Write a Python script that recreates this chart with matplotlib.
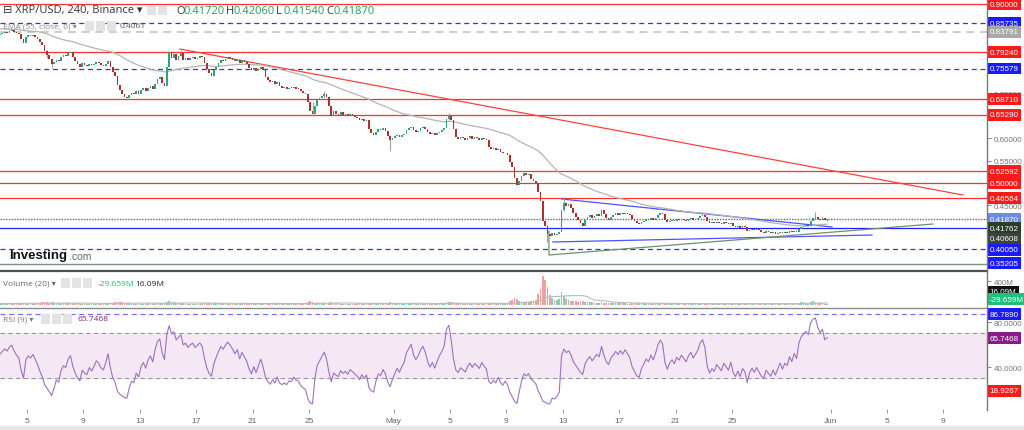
import numpy as np
import pandas as pd
import matplotlib
matplotlib.use("Agg")
import matplotlib.pyplot as plt
from matplotlib.patches import Rectangle
from matplotlib.lines import Line2D
import matplotlib.transforms as mtransforms

# ---- data (4h candles, XRP/USD, starting Apr 3 00:00) ----
first_open = 0.830
closes = [
    0.832, 0.835, 0.838, 0.836, 0.840, 0.842, 0.838, 0.835, 0.833, 0.822, 0.812,
    0.826, 0.830, 0.828, 0.831, 0.827, 0.822, 0.815, 0.808, 0.795, 0.787,
    0.778, 0.765, 0.770, 0.776, 0.772, 0.781, 0.785, 0.783, 0.790, 0.793,
    0.782, 0.773, 0.765, 0.760, 0.768, 0.764, 0.762, 0.767, 0.763, 0.766,
    0.770, 0.768, 0.764, 0.762, 0.766, 0.772, 0.760, 0.748, 0.740, 0.718,
    0.708, 0.700, 0.693, 0.690, 0.697, 0.702, 0.699, 0.706, 0.700, 0.708,
    0.712, 0.705, 0.712, 0.716, 0.710, 0.722, 0.733, 0.737, 0.724, 0.716,
    0.760, 0.792, 0.780, 0.788, 0.776, 0.784, 0.790, 0.776, 0.780, 0.774,
    0.779, 0.782, 0.777, 0.780, 0.784, 0.781, 0.768, 0.755, 0.745, 0.740,
    0.752, 0.760, 0.768, 0.775, 0.772, 0.778, 0.782, 0.779, 0.776, 0.772,
    0.776, 0.768, 0.774, 0.770, 0.766, 0.758, 0.752, 0.757, 0.750, 0.755,
    0.760, 0.752, 0.738, 0.730, 0.725, 0.728, 0.722, 0.726, 0.716, 0.713,
    0.714, 0.711, 0.713, 0.712, 0.714, 0.711, 0.710, 0.705, 0.702, 0.700,
    0.680, 0.660, 0.655, 0.672, 0.685, 0.690, 0.695, 0.700, 0.692, 0.672,
    0.650, 0.660, 0.655, 0.652, 0.658, 0.653, 0.655, 0.650, 0.654, 0.651,
    0.648, 0.645, 0.640, 0.643, 0.638, 0.640, 0.620, 0.612, 0.608, 0.615,
    0.620, 0.618, 0.622, 0.617, 0.605, 0.595, 0.600, 0.604, 0.608, 0.603,
    0.607, 0.610, 0.618, 0.622, 0.626, 0.618, 0.614, 0.617, 0.622, 0.625,
    0.621, 0.614, 0.609, 0.612, 0.607, 0.611, 0.615, 0.618, 0.622, 0.642,
    0.650, 0.640, 0.620, 0.603, 0.598, 0.603, 0.600, 0.596, 0.601, 0.604,
    0.599, 0.602, 0.600, 0.597, 0.601, 0.598, 0.595, 0.580, 0.576, 0.578,
    0.574, 0.577, 0.570, 0.566, 0.568, 0.563, 0.548, 0.535, 0.512, 0.495,
    0.505, 0.515, 0.522, 0.518, 0.520, 0.510, 0.505, 0.500, 0.480, 0.460,
    0.415, 0.405, 0.385, 0.382, 0.388, 0.384, 0.386, 0.390, 0.440, 0.455,
    0.448, 0.452, 0.445, 0.432, 0.425, 0.418, 0.410, 0.405, 0.418, 0.424,
    0.428, 0.422, 0.426, 0.430, 0.427, 0.440, 0.430, 0.422, 0.418, 0.425,
    0.428, 0.432, 0.429, 0.433, 0.430, 0.434, 0.431, 0.428, 0.420, 0.415,
    0.410, 0.408, 0.413, 0.416, 0.419, 0.417, 0.421, 0.418, 0.422, 0.428,
    0.432, 0.430, 0.418, 0.412, 0.416, 0.418, 0.415, 0.419, 0.417, 0.420,
    0.418, 0.416, 0.419, 0.421, 0.418, 0.420, 0.422, 0.426, 0.428, 0.425,
    0.415, 0.410, 0.412, 0.410, 0.413, 0.411, 0.409, 0.412, 0.410, 0.408,
    0.411, 0.405, 0.402, 0.404, 0.400, 0.403, 0.401, 0.392, 0.396, 0.398,
    0.395, 0.397, 0.394, 0.391, 0.389, 0.392, 0.390, 0.388, 0.390, 0.387,
    0.389, 0.391, 0.388, 0.390, 0.389, 0.392, 0.390, 0.393, 0.391, 0.398,
    0.402, 0.404, 0.406, 0.405, 0.416, 0.421, 0.423, 0.420, 0.418, 0.421,
    0.4172, 0.4187,
]
# notable wicks: candle index -> (low, high)
wicks = {20: (0.780, 0.797), 22: (0.760, 0.780), 77: (0.784, 0.797),
         133: (0.650, 0.682), 138: (0.690, 0.705), 166: (0.571, 0.607),
         191: (0.640, 0.657), 233: (0.368, 0.406), 240: (0.438, 0.468),
         347: (0.419, 0.435), 352: (0.4154, 0.4206)}

volume = [  # millions
    28, 22, 25, 30, 24, 20, 26, 31, 27, 35, 40, 29, 24, 22, 26, 25, 30, 38, 52, 45,
    48, 40, 44, 30, 26, 28, 24, 30, 33, 29, 27, 35, 38, 30, 26, 22, 20, 24, 21, 23,
    22, 25, 20, 19, 24, 26, 30, 34, 40, 48, 56, 50, 44, 38, 30, 27, 25, 22, 24, 26,
    23, 21, 25, 28, 24, 22, 30, 36, 40, 33, 29, 45, 70, 50, 42, 35, 30, 28, 26, 24,
    22, 20, 24, 23, 21, 25, 27, 45, 40, 36, 33, 30, 28, 26, 29, 31, 25, 23, 22, 24,
    21, 20, 23, 22, 26, 25, 30, 34, 28, 26, 24, 27, 25, 38, 35, 30, 28, 26, 24, 22,
    20, 21, 19, 22, 20, 23, 21, 22, 25, 28, 32, 48, 60, 52, 40, 34, 30, 28, 26, 25,
    36, 44, 35, 30, 27, 25, 24, 22, 23, 21, 24, 22, 26, 28, 25, 24, 23, 35, 40, 33,
    28, 26, 24, 25, 23, 30, 46, 38, 32, 28, 25, 26, 24, 23, 28, 30, 27, 24, 22, 23,
    24, 22, 25, 27, 23, 22, 21, 24, 26, 30, 44, 52, 48, 42, 36, 30, 27, 25, 24, 22,
    23, 21, 22, 24, 21, 22, 23, 21, 30, 28, 26, 27, 25, 32, 30, 34, 36, 60, 85, 120,
    95, 70, 55, 48, 45, 50, 62, 75, 90, 180, 260, 480, 420, 300, 160, 110, 90, 80, 95, 210,
    150, 100, 80, 70, 65, 60, 58, 62, 70, 55, 48, 44, 42, 40, 38, 36, 45, 40, 38, 35,
    33, 30, 28, 30, 27, 26, 28, 25, 24, 30, 34, 38, 36, 32, 28, 26, 25, 27, 24, 26,
    30, 28, 26, 32, 30, 26, 24, 22, 21, 23, 20, 22, 21, 20, 23, 22, 21, 24, 25, 26,
    24, 30, 28, 24, 22, 21, 20, 22, 21, 20, 19, 21, 24, 26, 25, 23, 24, 22, 30, 26,
    24, 22, 23, 21, 25, 24, 22, 21, 20, 22, 21, 23, 20, 21, 22, 20, 23, 21, 24, 22,
    40, 52, 45, 38, 35, 55, 62, 48, 40, 35, 30, 25, 16,
]

red_levels = [0.90, 0.79240, 0.68710, 0.65290, 0.52592, 0.50, 0.46564]
blue_dash_levels = [0.85735, 0.75579, 0.35205]
gray_dash_level = 0.83791
blue_solid_level = 0.40050
last_price = 0.41870
ema_seed = 0.845
rsi_seed = 0.004  # average gain / loss before the first candle

# trend lines (days since Apr 1, price)
red_trend = ([14.85, 70.38], [0.7994, 0.4732])
blue_upper = ([41.94, 61.09], [0.4642, 0.4017])
blue_lower = ([41.30, 63.93], [0.3682, 0.3838])
green_trend = ([41.02, 41.02, 68.26], [0.3927, 0.3391, 0.4084])

tick_days = [4, 8, 12, 16, 20, 24, 30, 34, 38, 42, 46, 50, 54, 61, 65, 69]
tick_text = ["5", "9", "13", "17", "21", "25", "May", "5", "9", "13", "17",
             "21", "25", "Jun", "5", "9"]
price_ticks = [0.45, 0.55, 0.60, 0.70]

# right-hand price labels: (text, label y, box colour)
price_labels = [
    ("0.90000", 0.90000, "#ff1a1a"), ("0.85735", 0.85735, "#1a1aff"),
    ("0.83791", 0.83791, "#a8a8a8"), ("0.79240", 0.79240, "#ff1a1a"),
    ("0.75579", 0.75579, "#1a1aff"), ("0.68710", 0.68710, "#ff1a1a"),
    ("0.65290", 0.65290, "#ff1a1a"), ("0.52592", 0.52592, "#ff1a1a"),
    ("0.50000", 0.50000, "#ff1a1a"), ("0.46564", 0.46564, "#ff1a1a"),
    ("0.41870", 0.41870, "#6a8be0"), ("0.41762", 0.3994, "#2c3d2c"),
    ("0.40608", 0.3749, "#3a443a"), ("0.40050", 0.3503, "#1a1aff"),
    ("0.35205", 0.3212, "#1a1aff"),
]

# ---- derived series ----
n = len(closes)
xs = 2 + (np.arange(n) + 0.5) / 6.0
c = np.array(closes)
o = np.r_[first_open, c[:-1]]

ema = []
e = ema_seed
for v in c:
    e = e + 2.0 / 56 * (v - e)
    ema.append(e)

rsi = []
ag = al = rsi_seed
for d in c - o:
    ag = (ag * 8 + max(d, 0)) / 9
    al = (al * 8 + max(-d, 0)) / 9
    rsi.append(100 - 100 / (1 + ag / al))
vol_ma = pd.Series(volume).rolling(20, min_periods=1).mean()

# ---- figure ----
W, H = 1024, 431
fig = plt.figure(figsize=(W / 100, H / 100), dpi=100)
LAB = ["Liberation Sans", "DejaVu Sans"]
HDR = ["Open Sans", "DejaVu Sans"]


def pax(x0, y0, x1, y1):
    a = fig.add_axes([x0 / W, 1 - y1 / H, (x1 - x0) / W, (y1 - y0) / H])
    for s in a.spines.values():
        s.set_visible(False)
    a.set_xlim(2.085, 72.09)
    a.tick_params(axis="x", bottom=False, labelbottom=False)
    a.yaxis.tick_right()
    a.tick_params(axis="y", length=3, width=0.6, color="#777777", pad=2,
                  labelsize=5.8, labelcolor="#777777")
    return a


def rlabel(a, y, txt, col):
    tr = mtransforms.blended_transform_factory(a.transAxes, a.transData)
    a.text(1.0 + 2.5 / 987, y, txt, transform=tr, fontsize=5.8, color="white",
           family=LAB, va="center", ha="left", clip_on=False, zorder=10,
           bbox=dict(boxstyle="square,pad=0.3", fc=col, ec="none"))


ax = pax(0, 0, 987, 271)
axv = pax(0, 273, 987, 308)
axr = pax(0, 310, 987, 410)

# main panel
ax.set_ylim(0.3056, 0.9112)
ax.set_yticks(price_ticks)
ax.set_yticklabels([f"{v:.5f}" for v in price_ticks], family=LAB)

for lv in red_levels:
    ax.axhline(lv, color="#ff3030", lw=0.9, zorder=1)
for lv in blue_dash_levels:
    ax.axhline(lv, color="#3030ff", lw=0.9, ls=(0, (4, 3)), zorder=1)
ax.axhline(gray_dash_level, color="#cccccc", lw=1.4, ls=(0, (4, 3)), zorder=1)
ax.axhline(blue_solid_level, color="#2020ff", lw=0.9, zorder=1)
ax.axhline(last_price, color="#666666", lw=1.0, ls=(0, (1, 1)), zorder=1)
ax.axhline(0.3195, color="#7f927f", lw=1.0, zorder=1)

ax.plot(*red_trend, color="#ff4040", lw=0.9, zorder=1)
ax.plot(*blue_upper, color="#5050ff", lw=0.9, zorder=1)
ax.plot(*blue_lower, color="#5050ff", lw=0.9, zorder=1)
ax.plot(*green_trend, color="#6f8f6f", lw=0.9, zorder=1)
ax.plot(xs, ema, color="#b4b4b4", lw=0.9, zorder=2)

up = c >= o
body_lo = np.minimum(o, c)
body_h = np.maximum(np.abs(c - o), 0.0016)
for i, (lo, hi) in wicks.items():
    ax.vlines(xs[i], lo, hi, color="#9aa59a", lw=0.8, zorder=2)
ax.bar(xs[up], body_h[up], bottom=body_lo[up], width=0.12, color="#2ea37c", zorder=3)
ax.bar(xs[~up], body_h[~up], bottom=body_lo[~up], width=0.12, color="#a8322c", zorder=3)

for txt, y, col in price_labels:
    rlabel(ax, y, txt, col)

# volume panel
axv.set_ylim(-33, 550)
axv.set_yticks([400])
axv.set_yticklabels(["400M"], family=LAB)
vol = np.array(volume)
axv.bar(xs[up], vol[up], width=0.12, color="#7fd1b0", zorder=2)
axv.bar(xs[~up], vol[~up], width=0.12, color="#f0a0a0", zorder=2)
axv.plot(xs, vol_ma, color="#bbbbbb", lw=0.8, zorder=3)
rlabel(axv, 225, "16.09M", "#111111")
rlabel(axv, 95, "-29.659M", "#1fc07a")

# RSI panel
axr.set_ylim(2.7, 91.6)
axr.set_yticks([40, 80])
axr.set_yticklabels(["40.0000", "80.0000"], family=LAB)
axr.axhspan(30, 70, color="#f3e8f3", zorder=0)
axr.axhline(70, color="#999999", lw=0.8, ls=(0, (4, 3)))
axr.axhline(30, color="#999999", lw=0.8, ls=(0, (4, 3)))
axr.axhline(86.789, color="#7070ff", lw=0.9, ls=(0, (4, 3)))
axr.plot(xs, rsi, color="#a070c0", lw=0.8, zorder=3)
for txt, y, col in [("86.7890", 86.789, "#1a1aff"), ("65.7468", 65.7468, "#8a1a8a"),
                    ("18.9267", 18.9267, "#ff1a1a")]:
    rlabel(axr, y, txt, col)

axr.tick_params(axis="x", bottom=True, labelbottom=True, length=3, width=0.6,
                color="#888888", labelsize=6, labelcolor="#666666", pad=3)
axr.set_xticks(tick_days)
axr.set_xticklabels(tick_text, family=LAB)

# frame lines
fig.add_artist(Line2D([0, 987 / W], [1 - 272 / H] * 2, color="#4d4d4d", lw=1.6))
fig.add_artist(Line2D([0, 987 / W], [1 - 308.5 / H] * 2, color="#8c8c8c", lw=1.0))
fig.add_artist(Line2D([987 / W] * 2, [1 - 411 / H, 1], color="#7a7a7a", lw=1.0))
fig.add_artist(Rectangle((0, 0), 1, 4 / H, color="#e6e6e6", lw=0))


# header texts
def ftext(x, y, s, **kw):
    fig.text(x / W, 1 - y / H, s, va="center", ha="left", **kw)


def icons(x0, y, nbox=3):
    for k in range(nbox):
        fig.add_artist(Rectangle(((x0 + k * 11) / W, 1 - (y + 5) / H), 9 / W, 10 / H,
                                 color="#e3e3e3", lw=0))


ftext(3, 11, "⊟ XRP/USD, 240, Binance ▾", fontsize=8, color="#333333", family=HDR)
icons(147, 11, 2)
ohlc = [("O", "0.41720", 176), ("H", "0.42060", 226), ("L", "0.41540", 276), ("C", "0.41870", 326)]
for k, v, x in ohlc:
    ftext(x, 11, k, fontsize=8, color="#333333", family=HDR)
    ftext(x + 7, 11, v, fontsize=8, color="#2a9a5a", family=HDR)
ftext(3, 27, "EMA (55, close, 0) ▾", fontsize=6, color="#8a8a8a", family=HDR)
icons(85, 27)
ftext(120, 27, "0.4061", fontsize=6, color="#555555", family=HDR)

ftext(3, 284, "Volume (20) ▾", fontsize=6, color="#666666", family=HDR)
icons(61, 284)
ftext(98, 284, "-29.659M", fontsize=6, color="#1fbf6a", family=HDR)
ftext(135, 284, "16.09M", fontsize=6, color="#222222", family=HDR)

ftext(3, 320, "RSI (9) ▾", fontsize=6, color="#777777", family=HDR)
icons(41, 320)
ftext(78, 320, "65.7468", fontsize=6, color="#8a1a8a", family=HDR)

ftext(9, 256, "Investing", fontsize=9.5, color="#111111", family=LAB, weight="bold")
ftext(69, 257, ".com", fontsize=7.5, color="#666666", family=LAB)

fig.savefig("out.png", dpi=100, facecolor="white")
